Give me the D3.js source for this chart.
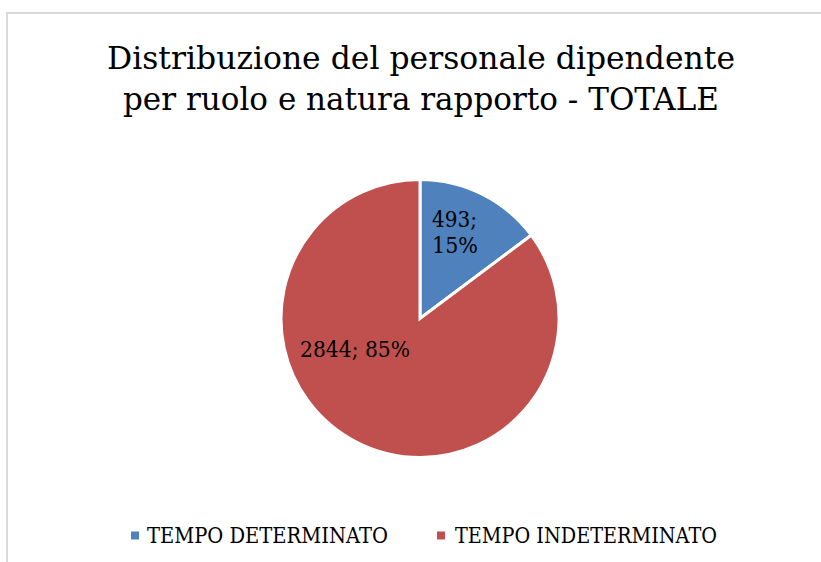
<!DOCTYPE html>
<html>
<head>
<meta charset="utf-8">
<script src="https://cdn.jsdelivr.net/npm/d3@7"></script>
<style>
html,body{margin:0;padding:0;background:#fff;}
svg{display:block;}
text{font-family:"DejaVu Serif","Liberation Serif",serif;fill:#000;}
</style>
</head>
<body>
<svg id="chart" width="821" height="562"></svg>
<script>
const categories = ["TEMPO DETERMINATO", "TEMPO INDETERMINATO"];
const values = [493, 2844];
const percentLabels = ["15%", "85%"];
const colors = ["#4F81BD", "#C0504D"];
const titleLines = ["Distribuzione del personale dipendente", "per ruolo e natura rapporto - TOTALE"];

const svg = d3.select("#chart");

svg.append("rect")
  .attr("x", 7).attr("y", 13).attr("width", 900).attr("height", 700)
  .attr("fill", "none").attr("stroke", "#d9d9d9").attr("stroke-width", 2);

const titleWidths = [628, 596];
const titleBaselines = [69, 110];
titleLines.forEach((t, i) => {
  svg.append("text")
    .attr("x", 421).attr("y", titleBaselines[i])
    .attr("text-anchor", "middle")
    .attr("font-size", 32)
    .attr("textLength", titleWidths[i])
    .attr("lengthAdjust", "spacingAndGlyphs")
    .text(t);
});

const cx = 420, cy = 318.5, r = 139;
const pie = d3.pie().sort(null).value(d => d)(values);
const arc = d3.arc().innerRadius(0).outerRadius(r);
const g = svg.append("g").attr("transform", `translate(${cx},${cy})`);
g.selectAll("path").data(pie).enter().append("path")
  .attr("d", arc)
  .attr("fill", (d, i) => colors[i])
  .attr("stroke", "#fff")
  .attr("stroke-width", 3)
  .attr("stroke-linejoin", "miter");

const labelFont = 22;
const l0 = svg.append("text").attr("font-size", labelFont);
l0.append("tspan").attr("x", 432).attr("y", 227).attr("textLength", 45).attr("lengthAdjust", "spacingAndGlyphs").text(values[0] + ";");
l0.append("tspan").attr("x", 432).attr("y", 253).attr("textLength", 46).attr("lengthAdjust", "spacingAndGlyphs").text(percentLabels[0]);
svg.append("text").attr("font-size", labelFont)
  .attr("x", 300).attr("y", 357)
  .attr("textLength", 110).attr("lengthAdjust", "spacingAndGlyphs")
  .text(values[1] + "; " + percentLabels[1]);

const legendItems = [
  {sq: 131, tx: 147, w: 241},
  {sq: 437, tx: 455, w: 262}
];
categories.forEach((c, i) => {
  svg.append("rect")
    .attr("x", legendItems[i].sq).attr("y", 531.5)
    .attr("width", 8).attr("height", 8)
    .attr("fill", colors[i]);
  svg.append("text")
    .attr("x", legendItems[i].tx).attr("y", 543)
    .attr("font-size", 21.5)
    .attr("textLength", legendItems[i].w)
    .attr("lengthAdjust", "spacingAndGlyphs")
    .text(c);
});
</script>
</body>
</html>
